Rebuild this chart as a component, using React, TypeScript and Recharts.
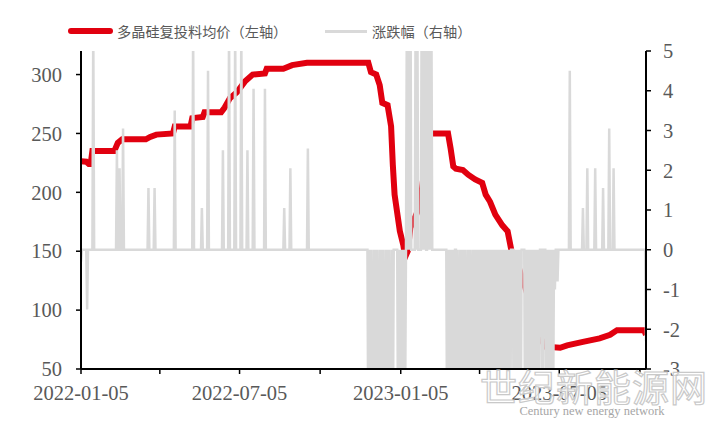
import React from 'react';
import { ComposedChart, Line, XAxis, YAxis } from 'recharts';

// x values are calendar days counted from 2022-01-05
const tickDays = [0, 90, 181, 273, 365, 455, 546, 638];
const labelDays = [0, 181, 365, 546];
const labelTexts = ['2022-01-05', '2022-07-05', '2023-01-05', '2023-07-05'];
const leftTicks = [50, 100, 150, 200, 250, 300];
const rightTicks = [-3, -2, -1, 0, 1, 2, 3, 4, 5];

// 多晶硅复投料均价 (left axis), breakpoints of the price line
const priceDays = [
  0, 6, 9, 11, 13, 38, 42, 47, 74, 79, 86, 105, 107, 125, 127, 139, 141, 160, 164, 170,
  178, 187, 196, 210, 212, 231, 241, 258, 328, 331, 337, 341, 344, 350, 354, 356, 358,
  364, 368, 370, 373, 376, 381, 387, 392, 396, 419, 422, 425, 428, 436, 442, 450, 458,
  462, 467, 473, 481, 487, 491, 493, 498, 506, 513, 519, 525, 530, 547, 555, 573, 592,
  604, 612, 643, 645,
];
const priceValues = [
  226.5, 226, 224, 224, 235, 235, 242, 245, 245, 247, 249, 250, 256, 256, 263, 264, 268, 268, 272, 280,
  285, 294, 300, 301, 305, 305, 308, 310, 310, 302, 300, 291, 276, 274, 256, 223, 198,
  167, 155, 145, 150, 170, 178, 189, 220, 250, 250, 237, 222, 220, 219, 215, 211, 208,
  198, 192, 181, 172, 167, 152, 139, 140, 122, 105, 88, 76, 69, 68, 70, 73, 76,
  79, 83, 83, 79,
];

// 涨跌幅 (right axis): isolated moves, zero on the other days
const spikeDays = [
  0, 7, 14, 41, 44, 48, 77, 84, 107, 128, 138, 145, 162, 169, 176, 183, 190, 197, 210, 232, 239, 259,
  558, 573, 578, 587, 596, 603, 608, 645,
];
const spikeValues = [
  -0.3, -1.5, 5.6, 2.5, 2.05, 3.05, 1.55, 1.55, 3.5, 5.6, 1.05, 4.5, 2.5, 5.6, 5.6, 5.6, 2.5, 4.05, 4.05, 1.05, 2.05, 2.55,
  4.5, 1.05, 2.05, 2.05, 1.55, 3.05, 2.05, -2.3,
];

// 涨跌幅, daily from 2022-11-25 (day 328)
const winterStart = 328;
const winterChanges = [
  -5, 0, -6, 0, -5, -5, 0, -6, 0, -5, 0, -5, -4, 0, -6, 0, -5, 0, -5, -5,
  0, -6, 0, -5, 0, -5, -6, 0, -5, 0, 0, 0, 0, 0, -5, 0, -6, 0, -5, 0,
  -5, 0, -4, 0, 6, 0, 7, 0, 8, 0, 0, 0, 0, 0, 6, 0, 6, 0, 0, 0,
  0, 7, 0, 9, 0, 6, 0, 0, 6, 0, 10, 0, 6, 0,
];

// 涨跌幅, daily from 2023-02-24 (day 418)
const springStart = 418;
const springChanges = [
  -5, 0, -6, 0, -5, 0, -4, 0, -5, 0, 0, -5, 0, -6, -2, 0, -5, 0, -5, 0,
  -6, 0, -5, -2, 0, -5, 0, -6, -1.5, 0, -5, 0, -5, 0, -6, 0, -5, 0, -5, 0,
  -4, 0, -5, 0, -6, 0, -5, 0, -5, 0, -5, 0, -6, 0, -5, 0, -5, 0, -6, 0,
  -5, 0, -5, 0, -5, 0, -6, 0, -5, 0, -5, 0, -6, 0, 0, 0, -5, 0, -5, 0,
  -6, 0, -5, 0, -5, 0, 0, 0, 0, -5, 0, -6, 0, -5, 0, -5, 0, -6, 0, -5,
  0, -5, 0, -6, 0, -5, 0, 0, 0, -5, 0, 0, 0, -5, 0, -6, 0, -5, 0, -5,
  0, -4, 0, -1, 0, 0, -0.8, 0,
];

const lastDay = 645;

const changeByDay = new Map<number, number>();
spikeDays.forEach((d, i) => changeByDay.set(d, spikeValues[i]));
winterChanges.forEach((v, i) => changeByDay.set(winterStart + i, v));
springChanges.forEach((v, i) => changeByDay.set(springStart + i, v));
const priceByDay = new Map<number, number>();
priceDays.forEach((d, i) => priceByDay.set(d, priceValues[i]));

const rows = Array.from({ length: lastDay + 1 }, (_, day) => ({
  day,
  price: priceByDay.get(day),
  change: changeByDay.get(day) ?? 0,
}));

const RED = '#e1000f';
const GREY = '#d9d9d9';
const TEXT = '#595959';
const tickFont = { fill: TEXT, fontSize: 20.5, fontFamily: '"Liberation Serif", "DejaVu Serif", serif' };

function dayLabel(d: number) {
  const i = labelDays.indexOf(d);
  return i >= 0 ? labelTexts[i] : '';
}

function LegendRow() {
  const cjk = { fontFamily: '"Noto Sans CJK SC", sans-serif', fontSize: 14.2, color: TEXT, position: 'absolute' as const, top: 21, lineHeight: '20px', whiteSpace: 'nowrap' as const };
  return (
    <>
      <div style={{ position: 'absolute', left: 68, top: 28, width: 45, height: 6, borderRadius: 3, background: RED }} />
      <div style={{ ...cjk, left: 117 }}>多晶硅复投料均价（左轴）</div>
      <div style={{ position: 'absolute', left: 325, top: 30, width: 42, height: 3, background: GREY }} />
      <div style={{ ...cjk, left: 372 }}>涨跌幅（右轴）</div>
    </>
  );
}

function Watermark() {
  return (
    <svg width={712} height={421} style={{ position: 'absolute', left: 0, top: 0, pointerEvents: 'none' }}>
      <text x={594} y={402} textAnchor="middle" fontSize={37} fontFamily='"Noto Sans CJK SC", sans-serif'
        fill="#ffffff" fillOpacity={0.75} stroke="#c9c9c9" strokeWidth={1.2} letterSpacing={1}>
        世纪新能源网
      </text>
      <text x={592} y={415} textAnchor="middle" fontSize={12.5} fontFamily='"Liberation Serif", serif' fill="#a6a6a6">
        Century new energy network
      </text>
    </svg>
  );
}

export default function App() {
  return (
    <div style={{ position: 'absolute', left: 0, top: 0, width: 712, height: 421, background: '#fff' }}>
      <ComposedChart width={712} height={421} data={rows} margin={{ top: 51, right: 0, bottom: 22, left: 0 }}>
        <XAxis
          dataKey="day"
          type="number"
          domain={[0, lastDay]}
          ticks={tickDays}
          interval={0}
          allowDataOverflow
          tickFormatter={dayLabel}
          height={30}
          tickSize={5}
          tickMargin={11}
          axisLine={{ stroke: '#000', strokeWidth: 2 }}
          tickLine={{ stroke: '#000', strokeWidth: 1.5 }}
          tick={tickFont}
        />
        <YAxis
          yAxisId="left"
          domain={[50, 320]}
          ticks={leftTicks}
          interval={0}
          width={81}
          tickSize={5}
          tickMargin={14}
          axisLine={{ stroke: '#000', strokeWidth: 2 }}
          tickLine={{ stroke: '#000', strokeWidth: 1.5 }}
          tick={tickFont}
        />
        <YAxis
          yAxisId="right"
          orientation="right"
          domain={[-3, 5]}
          ticks={rightTicks}
          interval={0}
          allowDataOverflow
          width={66}
          tickSize={5}
          tickMargin={12}
          axisLine={{ stroke: '#000', strokeWidth: 2 }}
          tickLine={{ stroke: '#000', strokeWidth: 1.5 }}
          tick={tickFont}
        />
        <Line
          yAxisId="left"
          dataKey="price"
          type="linear"
          connectNulls
          stroke={RED}
          strokeWidth={6}
          dot={false}
          activeDot={false}
          isAnimationActive={false}
        />
        <Line
          yAxisId="right"
          dataKey="change"
          type="linear"
          stroke={GREY}
          strokeWidth={2.5}
          dot={false}
          activeDot={false}
          isAnimationActive={false}
        />
      </ComposedChart>
      <LegendRow />
      <Watermark />
    </div>
  );
}
